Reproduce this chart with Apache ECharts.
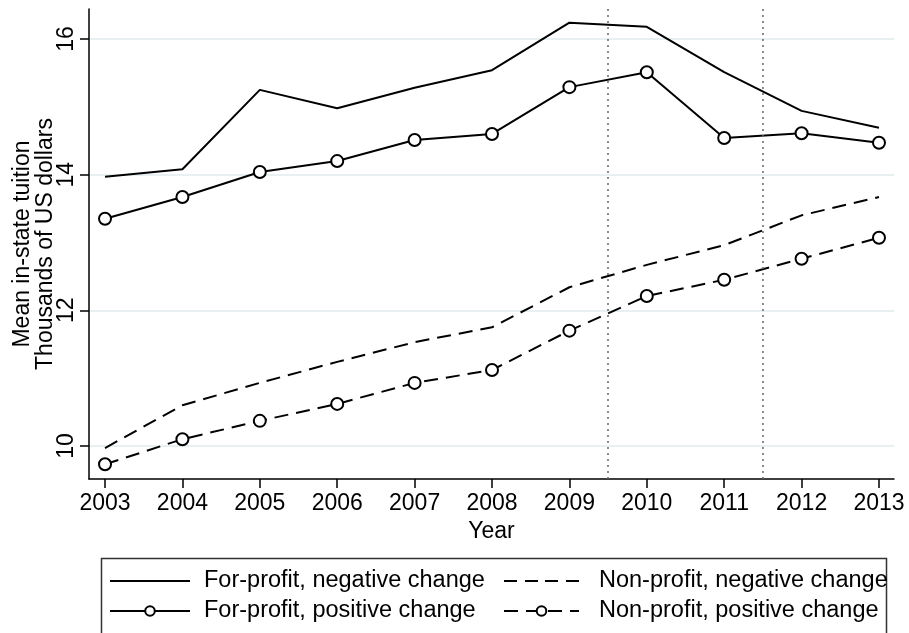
<!DOCTYPE html>
<html>
<head>
<meta charset="utf-8">
<script src="https://cdn.jsdelivr.net/npm/echarts@6/dist/echarts.min.js"></script>
<style>
  html, body { margin: 0; padding: 0; background: #fff; }
  #main { width: 909px; height: 633px; }
</style>
</head>
<body>
<div id="main"></div>
<script>
const FONT = "'Liberation Sans', Arial, Helvetica, sans-serif"
const years = [2003, 2004, 2005, 2006, 2007, 2008, 2009, 2010, 2011, 2012, 2013]
const yTicks = [10, 12, 14, 16]
const refYears = [2009.5, 2011.5]

// mean in-state tuition, thousands of US dollars
const forProfitNeg = [13.97, 14.08, 15.25, 14.98, 15.28, 15.54, 16.24, 16.18, 15.51, 14.94, 14.69]
const forProfitPos = [13.35, 13.67, 14.04, 14.20, 14.51, 14.60, 15.29, 15.51, 14.54, 14.61, 14.47]
const nonProfitNeg = [9.97, 10.60, 10.93, 11.24, 11.53, 11.75, 12.34, 12.67, 12.96, 13.40, 13.67]
const nonProfitPos = [9.73, 10.10, 10.37, 10.62, 10.93, 11.12, 11.70, 12.21, 12.45, 12.76, 13.07]

const names = [
  'For-profit, negative change',
  'For-profit, positive change',
  'Non-profit, negative change',
  'Non-profit, positive change'
]

// legend icons for the series without markers (line only)
const ICON_SOLID = 'path://M0,0 M0,5 H80 V7 H0 Z M80,12'
const ICON_DASH = 'path://M0,0 M0,5 H13 V7 H0 Z M21,5 H34 V7 H21 Z M41,5 H54 V7 H41 Z M62,5 H75 V7 H62 Z M75,12'

function pairs (vals) {
  return years.map((y, i) => [y, vals[i]])
}

function makeSeries (name, vals, dashed, marker) {
  return {
    name: name,
    type: 'line',
    data: pairs(vals),
    symbol: marker ? 'emptyCircle' : 'none',
    symbolSize: 12,
    color: '#000',
    itemStyle: { color: '#000', borderColor: '#000', borderWidth: 2 },
    lineStyle: { color: '#000', width: 2, type: dashed ? [14, 8] : 'solid' },
    emphasis: { disabled: true },
    z: 3
  }
}

const series = [
  makeSeries(names[0], forProfitNeg, false, false),
  makeSeries(names[1], forProfitPos, false, true),
  makeSeries(names[2], nonProfitNeg, true, false),
  makeSeries(names[3], nonProfitPos, true, true)
]
series[0].markLine = {
  silent: true,
  symbol: 'none',
  label: { show: false },
  lineStyle: { color: '#666', width: 1.5, type: [2, 4] },
  data: refYears.map(v => ({ xAxis: v }))
}

const legendText = { color: '#000', fontSize: 23.5, fontFamily: FONT, lineHeight: 23 }

let myChart = echarts.init(document.getElementById('main'), null, { renderer: 'canvas' })
myChart.setOption({
  animation: false,
  backgroundColor: '#fff',
  textStyle: { fontFamily: FONT },
  grid: { left: 89, right: 15, top: 9, bottom: 154, containLabel: false, outerBoundsMode: 'none' },
  xAxis: {
    type: 'value',
    min: 2002.793,
    max: 2013.194,
    name: 'Year',
    nameLocation: 'middle',
    nameGap: 41,
    nameMoveOverlap: false,
    nameTextStyle: { color: '#000', fontSize: 23, fontFamily: FONT },
    axisLine: { lineStyle: { color: '#000', width: 1.5 } },
    axisTick: { show: true, length: 9, lineStyle: { color: '#000', width: 1.5 }, customValues: years },
    axisLabel: { color: '#000', fontSize: 23, fontFamily: FONT, margin: 13, customValues: years, formatter: v => String(v) },
    splitLine: { show: false }
  },
  yAxis: {
    type: 'value',
    min: 9.513,
    max: 16.442,
    name: 'Mean in-state tuition\nThousands of US dollars',
    nameLocation: 'middle',
    nameGap: 32,
    nameMoveOverlap: false,
    nameTextStyle: { color: '#000', fontSize: 23, fontFamily: FONT, lineHeight: 23 },
    axisLine: { show: true, lineStyle: { color: '#000', width: 1.5 } },
    axisTick: { show: true, length: 9, lineStyle: { color: '#000', width: 1.5 }, customValues: yTicks },
    axisLabel: { color: '#000', fontSize: 23, fontFamily: FONT, rotate: 90, margin: 11, customValues: yTicks },
    splitLine: { show: true, lineStyle: { color: '#e8f0f2', width: 2 } }
  },
  legend: [
    {
      data: [{ name: names[0], icon: ICON_SOLID, itemStyle: { borderWidth: 0 } }, names[1]],
      orient: 'vertical',
      left: 109,
      top: 569,
      padding: 0,
      itemWidth: 80,
      itemHeight: 12,
      itemGap: 6,
      selectedMode: false,
      textStyle: Object.assign({ padding: [0, 0, 0, 9] }, legendText)
    },
    {
      data: [{ name: names[2], icon: ICON_DASH, itemStyle: { borderWidth: 0 } }, names[3]],
      orient: 'vertical',
      left: 503,
      top: 569,
      padding: 0,
      itemWidth: 75,
      itemHeight: 12,
      itemGap: 6,
      selectedMode: false,
      textStyle: Object.assign({ padding: [0, 0, 0, 15] }, legendText)
    }
  ],
  graphic: [
    {
      type: 'rect',
      left: 99,
      top: 556,
      shape: { width: 785, height: 76 },
      style: { fill: 'none', stroke: '#333', lineWidth: 1.5 },
      silent: true
    }
  ],
  series: series
})
</script>
</body>
</html>
